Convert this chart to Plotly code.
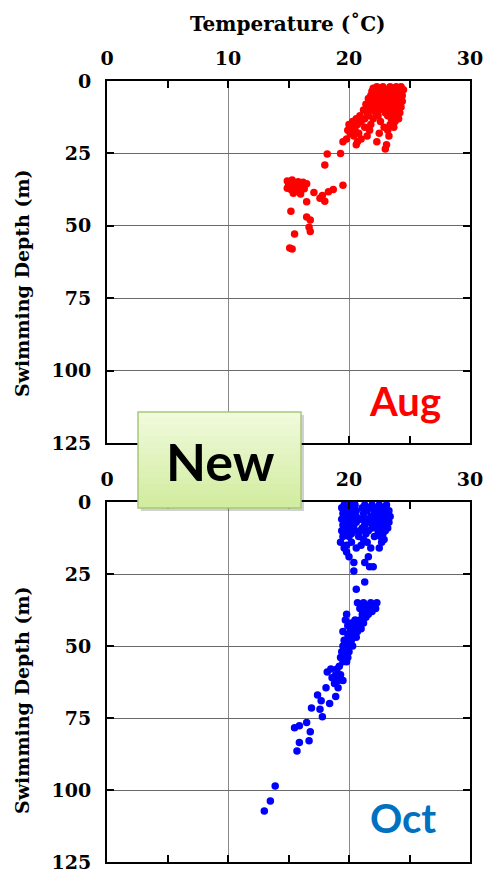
import plotly.graph_objects as go

# ---------------- data ----------------
x_ticks = [0, 10, 20, 30]
x_labels_top = ["0", "10", "20", "30"]
x_labels_bottom = ["0", "", "20", "30"]   # "10" is hidden behind the "New" box
x_minor = [5, 15, 25]
y_ticks = [0, 25, 50, 75, 100, 125]

aug_temp = [
    22.3, 22.8, 23.4, 23.9, 24.3, 22.0,
    22.5, 23.1, 23.6, 24.1, 24.5, 21.9,
    22.2, 22.7, 23.3, 23.8, 24.2,
    21.8, 22.4, 23.0, 23.5, 24.0, 24.4,
    21.6, 22.1, 22.6, 23.2, 23.7, 24.3,
    21.9, 22.4, 22.9, 23.4, 23.9, 24.4,
    21.4, 22.0, 22.7, 23.1, 23.6, 24.1,
    21.7, 22.3, 22.8, 23.3, 23.8, 24.3,
    21.2, 21.9, 22.5, 23.5, 24.0,
    21.5, 22.2, 23.0, 23.7, 24.2,
    20.9, 21.6, 22.4, 23.2, 23.9,
    20.6, 21.3, 22.0, 23.5, 24.1,
    20.3, 21.0, 22.6, 23.8,
    20.0, 20.7, 21.8, 23.4,
    20.2, 21.3, 22.9, 23.7,
    19.9, 20.5, 21.7, 23.2,
    20.1, 20.8, 22.5,
    20.4, 21.5, 23.3,
    19.8, 21.0,
    19.5, 20.7, 22.3,
    20.6, 23.1,
    23.0,
    19.3, 18.2, 18.0, 19.5,
    14.9, 15.3, 15.8, 16.2, 16.5, 15.0, 15.5, 16.0, 15.2, 15.7, 16.3, 15.4, 16.0, 14.9,
    17.1, 17.8, 18.3, 18.7, 17.6, 18.0,
    16.5, 15.2, 16.5, 16.8, 16.7, 16.8, 15.5, 15.1, 15.3,
]
aug_depth = [
    2, 2, 2, 2, 2, 2.5,
    3, 3, 3, 3, 3, 3.5,
    4, 4, 4, 4, 4,
    5, 5, 5, 5, 5, 5,
    6, 6, 6, 6, 6, 6,
    7, 7, 7, 7, 7, 7,
    8, 8, 8, 8, 8, 8,
    9, 9, 9, 9, 9, 9,
    10, 10, 10, 10, 10,
    11, 11, 11, 11, 11,
    12, 12, 12, 12, 12,
    13, 13, 13, 13, 13,
    14, 14, 14, 14,
    15, 15, 15, 15,
    16, 16, 16, 16,
    17, 17, 17, 17,
    18, 18, 18,
    19, 19, 19,
    20, 20,
    21, 21, 21,
    22, 22,
    23.5,
    25, 25.2, 29, 36,
    34.5, 34.2, 34.8, 35, 35.5, 36, 36.3, 36.5, 37.5, 37.8, 37.2, 38.8, 39, 37,
    38.5, 39.5, 38.2, 37.5, 40.5, 41.5,
    41.7, 45, 47, 48, 50.5, 52, 52.8, 57.7, 58,
]

oct_temp = [
    19.6, 20.1, 20.5, 19.4, 19.9, 20.4, 19.7, 20.2, 20.6, 19.5, 20.0, 20.4,
    19.6, 20.1, 20.6, 19.4, 19.9, 20.3, 19.7, 20.2, 20.6, 19.5, 20.0, 20.4,
    19.8, 20.3, 19.4, 19.9, 20.5, 19.7, 20.2, 19.5, 20.0,
    21.3, 21.9, 22.5, 23.1, 21.1, 21.7, 22.3, 22.9, 21.5, 22.1, 22.7, 23.3,
    21.2, 22.5, 23.0, 21.8, 22.2, 22.8, 23.4, 21.0, 21.5, 22.4, 23.1,
    21.7, 22.0, 22.7, 23.3, 21.3, 22.3, 22.9, 21.1, 21.9, 22.6, 23.2,
    20.9, 21.6, 22.4, 23.0, 21.4, 22.8, 20.8, 22.1, 22.6, 21.2, 22.9,
    19.3, 20.2, 21.5, 22.7, 19.8, 21.0, 19.6, 20.6, 21.8, 22.5,
    19.8, 20.0, 21.6, 20.4, 21.3, 22.0, 21.7, 20.4, 21.3, 20.6,
    20.7, 21.2, 21.8, 22.3, 21.0, 21.5, 22.0, 20.9, 21.7, 22.2, 21.3, 21.9,
    19.8, 21.1, 21.6, 21.4, 19.7, 20.5, 20.9, 20.2, 20.8, 21.2, 19.9, 20.6,
    20.3, 21.0, 19.5, 20.1, 20.7, 19.9, 20.4, 20.0, 20.6, 19.6, 20.2, 19.9,
    19.5, 20.3, 19.8, 19.4, 20.0, 19.6, 19.3, 19.9, 19.8, 19.5, 19.2,
    18.5, 19.0, 18.2, 18.9, 19.3, 18.6, 19.1, 19.5, 18.8, 18.1, 19.1,
    17.4, 18.9, 17.7, 18.4, 16.9, 17.6, 17.8, 16.5, 15.9, 15.5, 16.8,
    16.7, 15.9, 15.7, 13.9, 13.5, 13.0,
]
oct_depth = [
    1, 1, 1, 2, 2, 2, 3, 3, 3, 4, 4, 4,
    5, 5, 5, 6, 6, 6, 7, 7, 7, 8, 8, 8,
    9, 9, 10, 10, 10, 11, 11, 12, 12,
    1, 1, 1, 1, 2, 2, 2, 2, 3, 3, 3, 3,
    4, 4, 4, 5, 5, 5, 5, 6, 6, 6, 6,
    7, 7, 7, 7, 8, 8, 8, 9, 9, 9, 9,
    10, 10, 10, 10, 11, 11, 12, 12, 12, 13, 13,
    14, 14, 14, 14, 15, 15, 16, 16, 16, 16,
    17.4, 19, 19, 21, 21, 22.5, 22.5, 24, 27.8, 30.3,
    35, 35, 35, 35, 36, 36, 36, 37, 37, 37, 38, 38,
    39, 39, 39, 40, 41, 41, 41, 42, 42, 42, 43, 43,
    44, 44, 45, 45, 45, 46, 46, 47, 47, 48, 48, 49,
    50, 50, 51, 52, 52, 53, 54, 54, 55.5, 55.5, 57,
    58, 58, 59, 60, 60, 61, 62, 62, 63, 64.5, 64.5,
    67, 67.5, 69, 70, 71.5, 72, 74.6, 76.6, 77.7, 78.4, 79.8,
    82.9, 83.5, 86.5, 98.6, 103.8, 107.3,
]

# ---------------- layout helpers ----------------
W, H = 486, 872
def px(x):
    return x / W
def py(y):
    return 1 - y / H

TICKFONT = dict(family="DejaVu Serif", size=19, color="black", weight="bold")
TITLEFONT = dict(family="DejaVu Serif", size=20, color="black", weight="bold")
YTITLEFONT = dict(family="DejaVu Serif", size=19, color="black", weight="bold")

fig = go.Figure()
fig.add_trace(go.Scatter(x=aug_temp, y=aug_depth, mode="markers", xaxis="x", yaxis="y",
                         marker=dict(color="#ff0000", size=7.5, line=dict(width=0)), showlegend=False))
fig.add_trace(go.Scatter(x=oct_temp, y=oct_depth, mode="markers", xaxis="x2", yaxis="y2",
                         marker=dict(color="#0000ff", size=7.5, line=dict(width=0)), showlegend=False))

def xaxis_def(anchor, labels):
    return dict(domain=[px(107), px(470)], range=[0, 30], side="top", anchor=anchor,
                tickvals=x_ticks, ticktext=labels, ticks="inside", ticklen=7, tickwidth=2,
                tickcolor="black",
                minor=dict(tickvals=x_minor, ticks="inside", ticklen=7, tickwidth=2,
                           tickcolor="black", showgrid=False),
                showline=True, linecolor="black", linewidth=2, mirror="ticks",
                showgrid=True, gridcolor="#8a8a8a", gridwidth=1, zeroline=False,
                tickfont=TICKFONT, ticklabelstandoff=6, automargin=False,
                ticklabeloverflow="allow")

def yaxis_def(anchor, top, bottom):
    return dict(domain=[py(bottom), py(top)], range=[125, 0], anchor=anchor,
                tickvals=y_ticks, ticks="inside", ticklen=7, tickwidth=2, tickcolor="black",
                showline=True, linecolor="black", linewidth=2, mirror="ticks",
                showgrid=True, gridcolor="#6a6a6a", gridwidth=1, zeroline=False,
                tickfont=TICKFONT, ticklabelstandoff=10, automargin=False,
                ticklabeloverflow="allow")

shapes = []
# shadow of the "New" box
shapes.append(dict(type="rect", xref="paper", yref="paper", layer="above",
                   x0=px(141), x1=px(304), y0=py(511), y1=py(415),
                   fillcolor="rgba(0,0,0,0.18)", line=dict(width=0)))
# gradient fill of the "New" box
n = 16
top_c = (240, 250, 220)
bot_c = (210, 236, 160)
y_top, y_bot = 412, 508
for i in range(n):
    t = i / (n - 1)
    c = tuple(int(round(top_c[k] + (bot_c[k] - top_c[k]) * t)) for k in range(3))
    y0 = y_top + (y_bot - y_top) * i / n
    y1 = y_top + (y_bot - y_top) * (i + 1) / n
    shapes.append(dict(type="rect", xref="paper", yref="paper", layer="above",
                       x0=px(138), x1=px(301), y0=py(y1 + 0.5), y1=py(y0),
                       fillcolor="rgb(%d,%d,%d)" % c, line=dict(width=0)))
shapes.append(dict(type="rect", xref="paper", yref="paper", layer="above",
                   x0=px(138), x1=px(301), y0=py(508), y1=py(412),
                   fillcolor="rgba(0,0,0,0)", line=dict(color="#a8c878", width=1.5)))

annotations = [
    dict(text="Temperature (˚C)", xref="paper", yref="paper", x=px(288), y=py(24),
         showarrow=False, font=TITLEFONT, xanchor="center", yanchor="middle"),
    dict(text="Swimming Depth (m)", xref="paper", yref="paper", x=px(22), y=py(283),
         showarrow=False, font=YTITLEFONT, textangle=-90, xanchor="center", yanchor="middle"),
    dict(text="Swimming Depth (m)", xref="paper", yref="paper", x=px(22), y=py(700),
         showarrow=False, font=YTITLEFONT, textangle=-90, xanchor="center", yanchor="middle"),
    dict(text="Aug", xref="paper", yref="paper", x=px(405), y=py(401),
         showarrow=False, font=dict(family="Lato", size=40, color="#ff0000", weight="bold"),
         xanchor="center", yanchor="middle"),
    dict(text="Oct", xref="paper", yref="paper", x=px(403), y=py(818),
         showarrow=False, font=dict(family="Lato", size=40, color="#0070c0", weight="bold"),
         xanchor="center", yanchor="middle"),
    dict(text="New", xref="paper", yref="paper", x=px(220), y=py(461),
         showarrow=False, font=dict(family="Lato", size=52, color="black", weight="bold"),
         xanchor="center", yanchor="middle"),
]

fig.update_layout(
    width=W, height=H, margin=dict(l=0, r=0, t=0, b=0),
    paper_bgcolor="white", plot_bgcolor="white",
    xaxis=xaxis_def("y", x_labels_top), yaxis=yaxis_def("x", 81, 443),
    xaxis2=xaxis_def("y2", x_labels_bottom), yaxis2=yaxis_def("x2", 502, 862),
    shapes=shapes, annotations=annotations, showlegend=False,
)

fig.write_html("out.html")
